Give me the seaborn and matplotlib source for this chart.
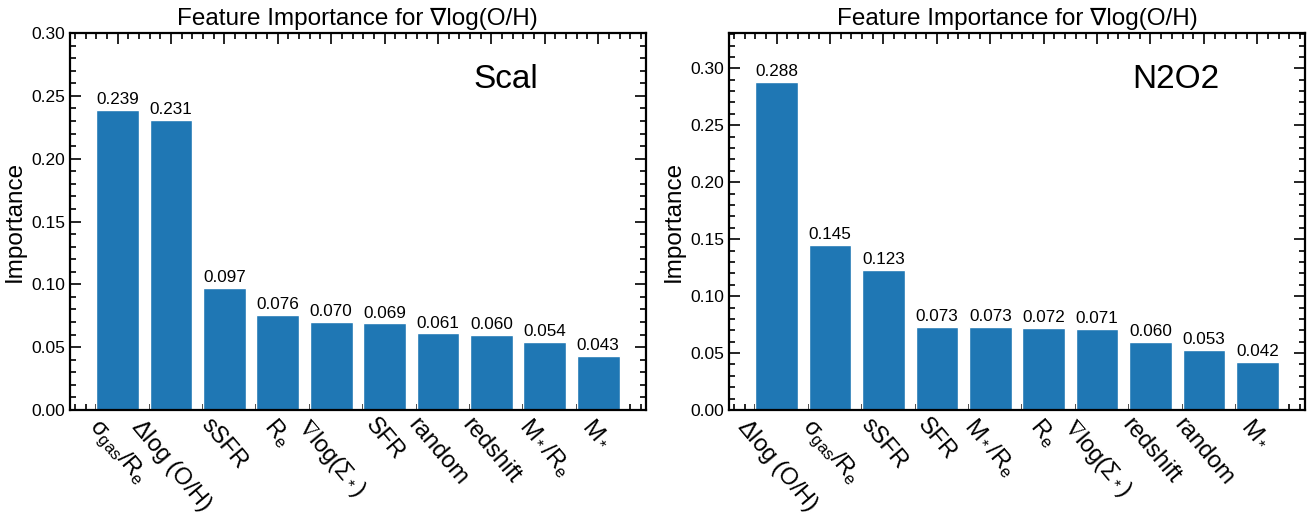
import matplotlib
matplotlib.use("Agg")
import matplotlib.pyplot as plt
from matplotlib.ticker import MultipleLocator, FixedLocator
import seaborn as sns
import pandas as pd

# Feature importances for the metallicity gradient, two calibrations
scal_features = [r"$\sigma_{gas}/R_e$", r"$\Delta$log (O/H)", "sSFR", r"$R_e$",
                 r"$\nabla$log($\Sigma_*$)", "SFR", "random", "redshift",
                 r"$M_*/R_e$", r"$M_*$"]
scal_importance = [0.239, 0.231, 0.097, 0.076, 0.070, 0.069, 0.061, 0.060, 0.054, 0.043]

n2o2_features = [r"$\Delta$log (O/H)", r"$\sigma_{gas}/R_e$", "sSFR", "SFR",
                 r"$M_*/R_e$", r"$R_e$", r"$\nabla$log($\Sigma_*$)", "redshift",
                 "random", r"$M_*$"]
n2o2_importance = [0.288, 0.145, 0.123, 0.073, 0.073, 0.072, 0.071, 0.060, 0.053, 0.042]

panel_names = ["Scal", "N2O2"]
y_tops = [0.30, 0.331]
title = "Feature Importance for \u2207log(O/H)"

sns.set_style("ticks")
plt.rcParams["font.family"] = ["Liberation Sans", "DejaVu Sans"]
plt.rcParams["mathtext.fontset"] = "custom"
plt.rcParams["mathtext.rm"] = "Liberation Sans"
plt.rcParams["mathtext.it"] = "Liberation Sans"
plt.rcParams["mathtext.default"] = "regular"
plt.rcParams["mathtext.fallback"] = "stixsans"
for key in ("text.color", "axes.labelcolor", "xtick.color", "ytick.color",
            "axes.edgecolor"):
    plt.rcParams[key] = "black"

fig, axes = plt.subplots(1, 2, figsize=(13.14, 5.16), dpi=100)
fig.subplots_adjust(left=0.0533, right=0.993, top=0.936, bottom=0.2054, wspace=0.145)

panels = [(scal_features, scal_importance), (n2o2_features, n2o2_importance)]
for ax, (feats, vals), name, ytop in zip(axes, panels, panel_names, y_tops):
    df = pd.DataFrame({"feature": feats, "importance": vals})
    sns.barplot(data=df, x="feature", y="importance", color="#1f77b4",
                saturation=1, width=0.8, ax=ax, errorbar=None)
    ax.bar_label(ax.containers[0], fmt="%.3f", padding=2, fontsize=12.3)
    ax.set_xlim(-0.89, len(feats) - 0.11)
    ax.set_ylim(0, ytop)
    ax.set_xlabel("")
    ax.set_ylabel("Importance", fontsize=17.5)
    ax.set_title(title, fontsize=17.5, pad=6)
    ax.yaxis.set_major_locator(MultipleLocator(0.05))
    ax.yaxis.set_minor_locator(MultipleLocator(0.01))
    ax.xaxis.set_major_locator(FixedLocator(range(len(feats))))
    ax.xaxis.set_minor_locator(MultipleLocator(0.2))
    ax.set_xticks(range(len(feats)))
    ax.set_xticklabels(feats, rotation=-50, ha="center", fontsize=17)
    ax.tick_params(which="both", direction="in", top=True, right=True, width=1.2)
    ax.tick_params(which="major", length=8)
    ax.tick_params(which="minor", length=4)
    ax.tick_params(axis="y", labelsize=12.5)
    ax.tick_params(axis="x", which="major", pad=3)
    for sp in ax.spines.values():
        sp.set_linewidth(1.6)
    ax.text(0.70, 0.878, name, transform=ax.transAxes, fontsize=24,
            ha="left", va="center")

fig.savefig("out.png", dpi=100)
